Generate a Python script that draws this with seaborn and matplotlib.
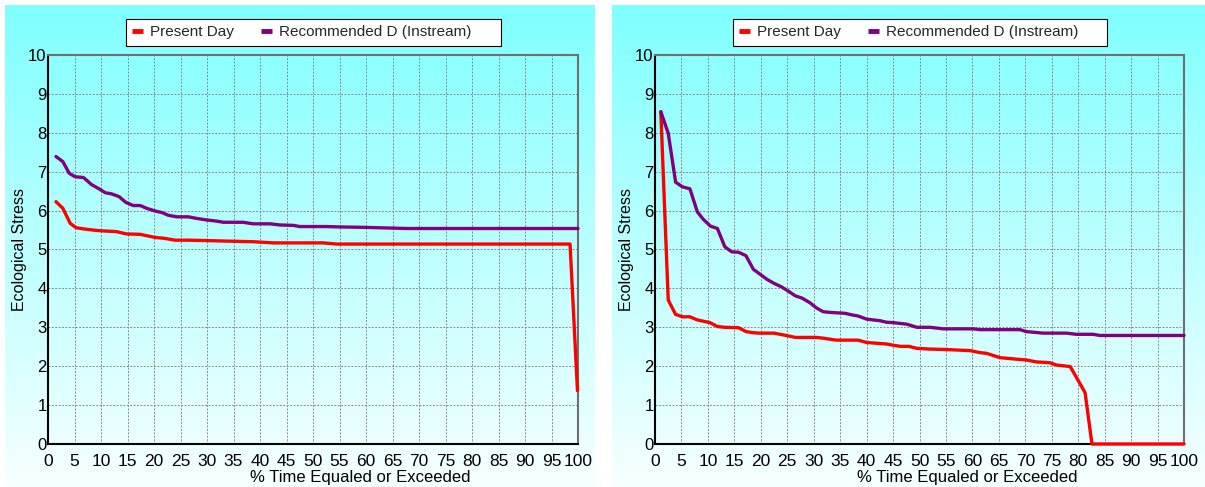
import numpy as np
import pandas as pd
import matplotlib
matplotlib.use("Agg")
import matplotlib.pyplot as plt
import seaborn as sns
from matplotlib.lines import Line2D
from matplotlib.patches import Rectangle
from matplotlib.ticker import MultipleLocator

# ---- Duration curves of ecological stress --------------------------------
# Left site
left_present_x = [1.5, 2.8, 4.2, 5.3, 6.7, 8.5, 10.1, 12.9, 14.8, 17.4, 20.2, 21.8,
                  24.0, 26.2, 29.9, 32.5, 38.7, 42.5, 51.9, 54.5, 98.5, 99.9]
left_present_y = [6.23, 6.06, 5.67, 5.56, 5.53, 5.50, 5.48, 5.46, 5.40, 5.39, 5.31, 5.29,
                  5.24, 5.24, 5.23, 5.22, 5.20, 5.17, 5.17, 5.14, 5.14, 1.37]

left_recommended_x = [1.5, 2.8, 4.0, 5.1, 6.7, 8.2, 9.5, 10.8, 12.0, 13.4, 14.7, 16.1,
                      17.4, 18.6, 20.2, 21.5, 22.7, 24.3, 26.5, 28.0, 29.9, 31.8, 33.1,
                      36.8, 38.7, 41.9, 43.8, 46.3, 47.5, 52.6, 55.1, 59.5, 67.7, 100.0]
left_recommended_y = [7.39, 7.26, 6.96, 6.87, 6.85, 6.67, 6.57, 6.46, 6.43, 6.36, 6.21, 6.13,
                      6.13, 6.06, 5.99, 5.95, 5.88, 5.84, 5.84, 5.80, 5.76, 5.73, 5.70,
                      5.70, 5.66, 5.66, 5.63, 5.62, 5.59, 5.59, 5.58, 5.57, 5.54, 5.54]

# Right site
right_present_x = [1.1, 2.5, 3.9, 5.2, 6.6, 8.0, 10.4, 11.8, 13.2, 15.8, 17.2, 18.6,
                   19.8, 22.5, 25.2, 26.5, 30.5, 31.8, 34.3, 38.4, 40.0, 43.8, 45.0,
                   46.4, 48.0, 49.5, 52.0, 54.9, 59.6, 61.4, 62.7, 65.2, 68.4, 70.2,
                   72.1, 74.6, 75.9, 78.5, 81.3, 82.6, 100.0]
right_present_y = [8.54, 3.70, 3.33, 3.27, 3.27, 3.19, 3.12, 3.02, 3.00, 2.99, 2.89, 2.86,
                   2.85, 2.85, 2.78, 2.74, 2.74, 2.72, 2.67, 2.67, 2.61, 2.57, 2.54,
                   2.51, 2.51, 2.46, 2.44, 2.43, 2.40, 2.35, 2.33, 2.22, 2.18, 2.16,
                   2.11, 2.09, 2.03, 1.99, 1.32, 0.00, 0.00]

right_recommended_x = [1.1, 2.5, 3.9, 5.2, 6.6, 8.0, 9.1, 10.5, 11.8, 13.2, 14.5, 15.8,
                       17.2, 18.6, 19.8, 21.2, 22.5, 23.9, 25.2, 26.5, 27.8, 29.3, 30.5,
                       31.8, 33.4, 35.9, 37.2, 38.4, 40.0, 42.5, 43.8, 45.0, 47.6, 49.5,
                       52.0, 54.5, 60.2, 61.4, 69.0, 70.2, 73.4, 77.8, 79.6, 82.8, 84.1,
                       100.0]
right_recommended_y = [8.54, 7.99, 6.73, 6.61, 6.56, 5.97, 5.78, 5.60, 5.54, 5.07, 4.94, 4.93,
                       4.84, 4.49, 4.37, 4.23, 4.13, 4.04, 3.93, 3.81, 3.75, 3.63, 3.50,
                       3.40, 3.38, 3.36, 3.32, 3.29, 3.21, 3.17, 3.13, 3.12, 3.08, 3.00,
                       3.00, 2.96, 2.96, 2.94, 2.94, 2.89, 2.85, 2.85, 2.82, 2.82, 2.79,
                       2.79]

series_names = ["Present Day", "Recommended D (Instream)"]
series_colors = {"Present Day": "#ff0000", "Recommended D (Instream)": "#800080"}

x_ticks = list(range(0, 101, 5))
y_ticks = list(range(0, 11))
x_label = "% Time Equaled or Exceeded"
y_label = "Ecological Stress"


def long_frame(present_x, present_y, rec_x, rec_y):
    a = pd.DataFrame({"pct": present_x, "stress": present_y, "series": series_names[0]})
    b = pd.DataFrame({"pct": rec_x, "stress": rec_y, "series": series_names[1]})
    return pd.concat([a, b], ignore_index=True)


frames = [
    long_frame(left_present_x, left_present_y, left_recommended_x, left_recommended_y),
    long_frame(right_present_x, right_present_y, right_recommended_x, right_recommended_y),
]

sns.set_style("white")
plt.rcParams["font.family"] = ["Liberation Sans", "DejaVu Sans"]

W, H = 1205, 487
fig = plt.figure(figsize=(W / 100, H / 100), dpi=100)
fig.patch.set_facecolor("white")

panel_spans = [(5, 595), (612, 1205)]
axes_spans = [(48, 578), (655, 1184)]
panel_top = 5
ax_top, ax_bottom = 55, 444

# vertical cyan-to-white gradient used behind each panel
n = 256
grad = np.ones((n, 1, 3))
grad[:, 0, 0] = np.linspace(0.50, 0.97, n)

for (p0, p1), (a0, a1), df in zip(panel_spans, axes_spans, frames):
    bg = fig.add_axes([p0 / W, 0, (p1 - p0) / W, (H - panel_top) / H])
    bg.imshow(grad, aspect="auto", extent=[0, 1, 0, 1], interpolation="bilinear")
    bg.set_axis_off()
    bg.set_zorder(0)

    ax = fig.add_axes([a0 / W, 1 - ax_bottom / H, (a1 - a0) / W, (ax_bottom - ax_top) / H])
    ax.set_zorder(1)
    ax.set_facecolor("none")

    sns.lineplot(data=df, x="pct", y="stress", hue="series", palette=series_colors,
                 hue_order=series_names, sort=False, estimator=None, linewidth=2.4,
                 legend=False, ax=ax)
    for ln in ax.lines:
        ln.set_clip_on(False)
        ln.set_zorder(3)
        ln.set_solid_joinstyle("round")

    ax.set_xlim(0, 100)
    ax.set_ylim(0, 10)
    ax.set_xticks(x_ticks)
    ax.set_yticks(y_ticks)
    ax.yaxis.set_minor_locator(MultipleLocator(0.25))
    ax.grid(True, which="major", color="#8a8a8a", linestyle=(0, (2, 1.5)), linewidth=0.7)

    ax.tick_params(axis="y", which="major", direction="in", length=4, width=1,
                   pad=1, labelsize=12, colors="black")
    ax.tick_params(axis="y", which="minor", direction="in", length=2.5, width=0.8,
                   colors="black")
    ax.tick_params(axis="x", which="major", direction="out", length=3, width=1,
                   pad=4, labelsize=12.5, colors="black")

    for side in ("left", "bottom"):
        ax.spines[side].set_color("black")
        ax.spines[side].set_linewidth(1.5)
    for side in ("top", "right"):
        ax.spines[side].set_color("#6f6f6f")
        ax.spines[side].set_linewidth(1.5)

    ax.set_xlabel(x_label, fontsize=12, color="black")
    ax.xaxis.set_label_coords(0.59, -0.067)
    ax.set_ylabel(y_label, fontsize=11.5, labelpad=1, color="black")

    # legend box above the plot area
    box = Rectangle((0.147, 1.023), 0.708, 0.070, transform=ax.transAxes,
                    facecolor="white", edgecolor="black", linewidth=0.8,
                    clip_on=False, zorder=4)
    ax.add_patch(box)
    handles = [Line2D([], [], color=series_colors[s], linewidth=3.5,
                      solid_capstyle="butt") for s in series_names]
    leg = ax.legend(handles, series_names, loc="center left",
                    bbox_to_anchor=(0.158, 1.058), ncol=2, frameon=False,
                    fontsize=11, handlelength=0.75, handletextpad=0.45,
                    columnspacing=1.75, borderpad=0, borderaxespad=0)
    leg.set_zorder(5)

fig.savefig("out.png", dpi=100)
